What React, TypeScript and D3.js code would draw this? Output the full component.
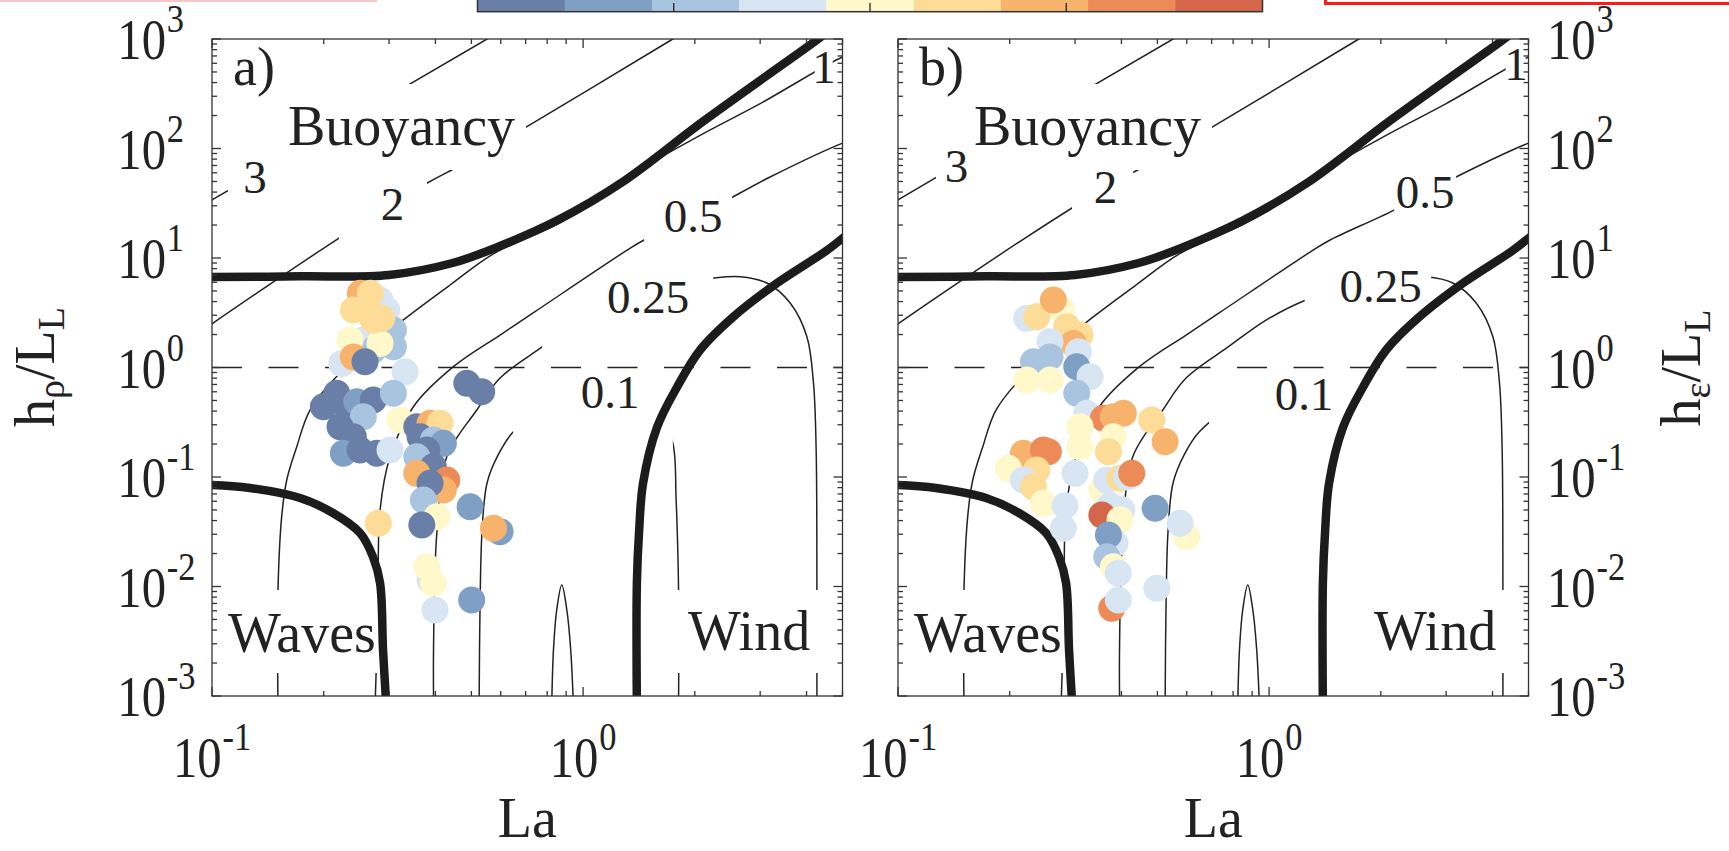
import React from 'react';
import * as d3 from 'd3';

// observations, panel a (h_rho / L_L): Langmuir number, depth ratio, colour class
const laA = [0.2837, 0.2957, 0.2557, 0.3082, 0.3082, 0.272, 0.2237, 0.3313, 0.2837, 0.2355, 0.251, 0.2404,
  0.267, 0.2404, 0.2612, 0.2867, 0.272, 0.2584,
  0.486, 0.533, 0.1996, 0.2168, 0.2307, 0.2455, 0.272, 0.3082, 0.2557, 0.2213, 0.2404, 0.3213,
  0.2259, 0.2506, 0.278, 0.3018, 0.3563, 0.3869, 0.4116, 0.3636, 0.395, 0.4202, 0.3791, 0.3563,
  0.395, 0.3563, 0.4292, 0.4202, 0.3869, 0.3712, 0.4035, 0.4961, 0.3676, 0.2807, 0.5974, 0.5733,
  0.3869, 0.3791, 0.395, 0.399, 0.501];
const ratioA = [4.13, 3.35, 1.78, 2.2, 1.55, 1.445, 1.09, 0.915, 1.66, 1.78, 4.76, 1.25,
  4.76, 3.35, 3.47, 2.81, 2.72, 1.13,
  0.718, 0.601, 0.4385, 0.581, 0.4385, 0.487, 0.505, 0.581, 0.355, 0.288, 0.233, 0.331,
  0.1646, 0.1764, 0.1646, 0.1764, 0.288, 0.309, 0.309, 0.233, 0.2177, 0.203, 0.1764, 0.1533,
  0.124, 0.108, 0.094, 0.0761, 0.0876, 0.0617, 0.0434, 0.0535, 0.0364, 0.0378, 0.0317, 0.034,
  0.01147, 0.01517, 0.0107, 0.0061, 0.00753];
const binA = [3, 3, 3, 2, 2, 2, 3, 3, 4, 4, 6, 6,
  5, 5, 5, 5, 5, 0,
  0, 0, 0, 0, 0, 1, 0, 2, 2, 0, 0, 4,
  1, 0, 0, 3, 0, 6, 5, 0, 2, 1, 0, 2,
  0, 6, 7, 6, 0, 2, 4, 1, 0, 5, 1, 6,
  3, 4, 4, 3, 1];

// observations, panel b (h_eps / L_L)
const laB = [0.2763, 0.2223, 0.2365, 0.2622, 0.2849, 0.3095, 0.2969, 0.2568, 0.3062, 0.2317, 0.2568,
  0.3032, 0.3293, 0.2223, 0.2568, 0.3032, 0.3226, 0.3577, 0.4048, 0.3805, 0.483, 0.5245,
  0.3095, 0.3805, 0.3095, 0.369, 0.2177, 0.2465, 0.2542, 0.1983, 0.2365, 0.2177, 0.2317,
  0.2465, 0.2818, 0.279, 0.3, 0.3542, 0.3653, 0.3966, 0.4133, 0.4264, 0.3728, 0.401, 0.3542,
  0.3966, 0.3845, 0.369, 0.3653, 0.3805, 0.3924, 0.493, 0.6, 0.5754, 0.4983, 0.3767, 0.3924];
const ratioB = [3.35, 2.81, 2.91, 4.13, 2.36, 1.98, 1.66, 1.72, 1.39, 1.13, 1.25,
  1.017, 0.824, 0.769, 0.769, 0.581, 0.382, 0.3436, 0.382, 0.355, 0.331, 0.21,
  0.288, 0.233, 0.1891, 0.1702, 0.1646, 0.1764, 0.1702, 0.12, 0.1157, 0.094, 0.0815,
  0.0575, 0.0547, 0.034, 0.108, 0.0761, 0.094, 0.0973, 0.1004, 0.108, 0.0547, 0.0501, 0.045,
  0.0408, 0.0248, 0.0295, 0.0187, 0.01517, 0.0132, 0.0518, 0.0285, 0.0378, 0.00963, 0.00632, 0.00753];
const binB = [4, 3, 5, 6, 5, 5, 6, 3, 3, 2, 2,
  1, 3, 4, 4, 2, 3, 7, 6, 6, 5, 6,
  4, 4, 4, 5, 6, 7, 7, 4, 5, 3, 5,
  4, 3, 3, 3, 4, 3, 5, 3, 7, 3, 3, 8,
  4, 3, 1, 2, 4, 3, 1, 4, 3, 3, 7, 3];

// colour bar classes, blue -> red
const binColors = ['#6a7fa8', '#7f9fc5', '#a8c4de', '#d7e6f2', '#fef8cb', '#fddc98', '#f7b36c', '#ec8b57', '#d4674a'];
const colorbarTicks = [0.25, 0.5, 0.75];

// regime boundaries [La, h/L_L]
const buoyancyEdge = [[0.09, 6.7], [0.1, 6.7], [0.1727, 6.8], [0.3, 7.0], [0.4449, 9.0], [0.578, 12.3], [0.855, 22.2],
  [1.265, 48.4], [2.13, 182], [4.2, 944], [4.63, 1208]];
const windEdge = [[1.396, 0.0008], [1.396, 0.01076], [1.416, 0.0328], [1.451, 0.0882], [1.583, 0.286], [1.792, 0.664],
  [2.067, 1.445], [2.537, 2.89], [3.334, 5.91], [4.547, 11.8], [5.245, 17.3]];
const wavesEdge = [[0.09, 0.0846], [0.1, 0.0846], [0.1266, 0.0794], [0.1727, 0.0643], [0.2119, 0.0469], [0.2506, 0.0308],
  [0.2716, 0.0186], [0.2837, 0.01076], [0.289, 0.00263], [0.295, 0.0008]];

// contour lines [La, h/L_L]
const contour3 = [[0.095, 30.4], [0.1, 33.9], [0.551, 1000], [0.6, 1180]];
const contour2 = [[0.095, 2.2], [0.1, 2.5], [0.22, 15.2], [0.38, 48.4], [0.458, 67.8], [0.702, 157], [1.727, 979], [1.9, 1190]];
const contour1 = [[0.1506, 0.0008], [0.1506, 0.0093], [0.1541, 0.0434], [0.159, 0.0939], [0.1692, 0.189], [0.1837, 0.409],
  [0.2213, 0.891], [0.2612, 1.445], [0.3272, 2.71], [0.438, 5.67], [0.578, 11.1], [0.855, 20.4], [1.111, 34.6],
  [1.404, 62.3], [2.067, 132], [3.0, 257], [5.0, 685], [5.5, 760]];
const contour05 = [[0.275, 0.0008], [0.278, 0.00263], [0.2802, 0.0093], [0.2837, 0.05], [0.3018, 0.1533], [0.3488, 0.4385],
  [0.4472, 1.017], [0.5974, 1.98], [0.7333, 3.15], [1.314, 11.8], [1.46, 14.6], [2.173, 27.4], [3.19, 54.9],
  [5.0, 112], [5.5, 125]];
const contour025 = [[0.3956, 0.0008], [0.3953, 0.00263], [0.4035, 0.0308], [0.4292, 0.1533], [0.517, 0.409], [0.5974, 0.802],
  [0.7755, 1.54], [0.9815, 2.71], [1.258, 4.14], [1.716, 5.67], [2.241, 6.57], [2.65, 6.75], [3.127, 5.91],
  [3.614, 3.88], [4.009, 1.911], [4.176, 0.722], [4.246, 0.1764], [4.266, 0.0093], [4.266, 0.0008]];
const contour01 = [[0.5245, 0.0008], [0.5278, 0.00753], [0.5344, 0.0328], [0.551, 0.0882], [0.5902, 0.159], [0.6477, 0.2576],
  [0.79, 0.427], [1.044, 0.549], [1.381, 0.505], [1.633, 0.332], [1.745, 0.204], [1.781, 0.0617], [1.808, 0.0093],
  [1.808, 0.0008]];
const arch = [[0.823, 0.0008], [0.832, 0.00263], [0.849, 0.0061], [0.876, 0.0103], [0.904, 0.0061], [0.926, 0.00263], [0.942, 0.0008]];

const contourLevels = ['3', '2', '1', '0.5', '0.25', '0.1'];
const contours = [contour3, contour2, contour1, contour05, contour025, contour01];
// La interval hidden by each inline contour label
const gapsA = [[0.1104, 0.1487], [0.2199, 0.3797], [4.21, 4.705], [1.46, 2.521], [0.7755, 2.241], [0.6477, 1.745]];
const gapsB = [[0.1266, 0.1487], [0.2944, 0.4299], [4.341, 4.91], [2.173, 3.19], [1.247, 2.733], [0.689, 2.34]];

const xDomain = [0.1, 5];
const yDomain = [1e-3, 1e3];

const TOP = 39;
const BOTTOM = 696;
const W = 630.5;
const FONT = "'Liberation Serif','Times New Roman',serif";
const INK = '#222';

// label layout inside a panel: [dx from panel left, baseline y]
const labelPosA = [[43, 193], [180.5, 220], [612, 83], [481, 232], [436, 313], [398, 408]];
const labelPosB = [[58.5, 182], [207.5, 203], [618, 80], [527, 208], [482.5, 302], [406, 410]];

const BASE = 58, SUP = 41, SX = 0.84, SUP_DY = -27;
const supWidth = (s: string) => s.split('').reduce((a, c) => a + (c === '-' ? 0.333 : 0.5), 0) * SUP;

function Pow({ tx, ty, exp, align }: { tx: number; ty: number; exp: number; align: string }) {
  const e = String(exp);
  let start = tx;
  if (align === 'end') start = tx - BASE * SX;
  if (align === 'middle') start = tx - ((BASE + 1 + supWidth(e)) * SX) / 2;
  return (
    <g transform={`translate(${start},${ty}) scale(${SX},1)`} fill={INK}>
      <text x={0} fontSize={BASE}>10</text>
      <text x={BASE + 1} y={SUP_DY} fontSize={SUP}>{e}</text>
    </g>
  );
}

function Panel({ id, left, la, ratio, bin, gaps, labelPos, tag, ySide }: any) {
  const right = left + W;
  const x = d3.scaleLog().domain(xDomain).range([left, right]);
  const y = d3.scaleLog().domain(yDomain).range([BOTTOM, TOP]);
  const line = d3.line<number[]>()
    .x(d => x(d[0]))
    .y(d => y(d[1]))
    .curve(d3.curveCatmullRom.alpha(0.5));
  const isMajor = (v: number) => Math.abs(Math.log10(v) - Math.round(Math.log10(v))) < 1e-6;
  const yt = y.ticks();
  const xt = x.ticks();
  const H = BOTTOM - TOP;
  const pts = la.map((d: number, i: number) => ({ la: d, r: ratio[i], b: bin[i] }));

  return (
    <g>
      <defs>
        <clipPath id={`${id}-plot`}>
          <rect x={left} y={TOP} width={W} height={H} />
        </clipPath>
        {gaps.map((g: number[], i: number) => (
          <clipPath key={i} id={`${id}-gap-${i}`}>
            <rect x={left - 5} y={TOP - 5} width={x(g[0]) - left + 5} height={H + 10} />
            <rect x={x(g[1])} y={TOP - 5} width={right + 5 - x(g[1])} height={H + 10} />
          </clipPath>
        ))}
      </defs>

      <g clipPath={`url(#${id}-plot)`}>
        {contours.map((c, i) => (
          <path key={i} d={line(c as any) || ''} clipPath={`url(#${id}-gap-${i})`}
            fill="none" stroke={INK} strokeWidth={1.5} />
        ))}
        <path d={line(arch as any) || ''} fill="none" stroke={INK} strokeWidth={1.5} />

        {/* white boxes behind the regime names */}
        <rect x={left + 64} y={84} width={250} height={86} fill="#fff" />
        <rect x={left + 6} y={590} width={162} height={83} fill="#fff" />
        <rect x={left + 454} y={590} width={160} height={83} fill="#fff" />

        {[buoyancyEdge, windEdge, wavesEdge].map((c, i) => (
          <path key={i} d={line(c as any) || ''} fill="none" stroke="#1c1c1c" strokeWidth={8.5} />
        ))}
        <line x1={left} x2={right} y1={y(1)} y2={y(1)} stroke={INK} strokeWidth={1.4} strokeDasharray="30 26.5" />
      </g>

      <g fontFamily={FONT} fill={INK}>
        <text x={left + 21} y={85} fontSize={54}>{tag}</text>
        <text x={left + 76} y={145} fontSize={56}>Buoyancy</text>
        <text x={left + 16} y={652} fontSize={56}>Waves</text>
        <text x={left + 476} y={650} fontSize={56}>Wind</text>
        {contourLevels.map((lv, i) => (
          <text key={lv} x={left + labelPos[i][0]} y={labelPos[i][1]} fontSize={47} textAnchor="middle">{lv}</text>
        ))}
      </g>

      {pts.map((p: any, i: number) => (
        <circle key={i} cx={x(p.la)} cy={y(p.r)} r={13.5} fill={binColors[p.b]} />
      ))}

      {/* axes box with ticks on all sides */}
      <g stroke="#333" strokeWidth={1.3}>
        {yt.map((v, i) => {
          const len = isMajor(v) ? 9 : 5;
          return (
            <g key={i}>
              <line x1={left} x2={left + len} y1={y(v)} y2={y(v)} />
              <line x1={right} x2={right - len} y1={y(v)} y2={y(v)} />
            </g>
          );
        })}
        {xt.map((v, i) => {
          const len = isMajor(v) ? 9 : 5;
          return (
            <g key={i}>
              <line x1={x(v)} x2={x(v)} y1={BOTTOM} y2={BOTTOM - len} />
              <line x1={x(v)} x2={x(v)} y1={TOP} y2={TOP + len} />
            </g>
          );
        })}
        <rect x={left} y={TOP} width={W} height={H} fill="none" />
      </g>

      <g fontFamily={FONT}>
        {xt.filter(isMajor).map(v => (
          <Pow key={v} tx={x(v)} ty={777} exp={Math.round(Math.log10(v))} align="middle" />
        ))}
        {yt.filter(isMajor).map(v => (
          ySide === 'left'
            ? <Pow key={v} tx={166} ty={y(v) + 20} exp={Math.round(Math.log10(v))} align="end" />
            : <Pow key={v} tx={1547} ty={y(v) + 20} exp={Math.round(Math.log10(v))} align="start" />
        ))}
        <text x={(left + right) / 2} y={837} fontSize={56} textAnchor="middle" fill={INK}>La</text>
      </g>
    </g>
  );
}

function Colorbar() {
  const band = d3.scaleBand<number>().domain(d3.range(binColors.length)).range([477.5, 1262.5]);
  const pos = d3.scaleLinear().domain([0, 1]).range([477.5, 1262.5]);
  return (
    <g>
      {binColors.map((c, i) => (
        <rect key={i} x={band(i)} y={-20} width={band.bandwidth() + 0.5} height={31.7} fill={c} />
      ))}
      <rect x={477.5} y={-20} width={785} height={31.7} fill="none" stroke="#333" strokeWidth={1.5} />
      {colorbarTicks.map(t => (
        <line key={t} x1={pos(t)} x2={pos(t)} y1={11.7} y2={3} stroke="#222" strokeWidth={1.3} />
      ))}
    </g>
  );
}

export default function App() {
  return (
    <svg width={1729} height={851} style={{ position: 'absolute', left: 0, top: 0 }}>
      <rect width={1729} height={851} fill="#fff" />
      <rect x={0} y={0} width={377} height={2} fill="#f8c6c6" />
      <rect x={1325.5} y={-20} width={420} height={23.5} fill="#fff" stroke="#ff1a1a" strokeWidth={3} />
      <Colorbar />
      <Panel id="pa" left={212} la={laA} ratio={ratioA} bin={binA} gaps={gapsA} labelPos={labelPosA} tag="a)" ySide="left" />
      <Panel id="pb" left={898} la={laB} ratio={ratioB} bin={binB} gaps={gapsB} labelPos={labelPosB} tag="b)" ySide="right" />
      <g fontFamily={FONT} fill={INK}>
        <text transform="translate(54,367) rotate(-90)" fontSize={56} textAnchor="middle">
          h<tspan fontSize={38} dy={10}>ρ</tspan><tspan fontSize={56} dy={-10}>/L</tspan><tspan fontSize={38} dy={10}>L</tspan>
        </text>
        <text transform="translate(1700,368) rotate(-90)" fontSize={56} textAnchor="middle">
          h<tspan fontSize={38} dy={10}>ε</tspan><tspan fontSize={56} dy={-10}>/L</tspan><tspan fontSize={38} dy={10}>L</tspan>
        </text>
      </g>
    </svg>
  );
}
